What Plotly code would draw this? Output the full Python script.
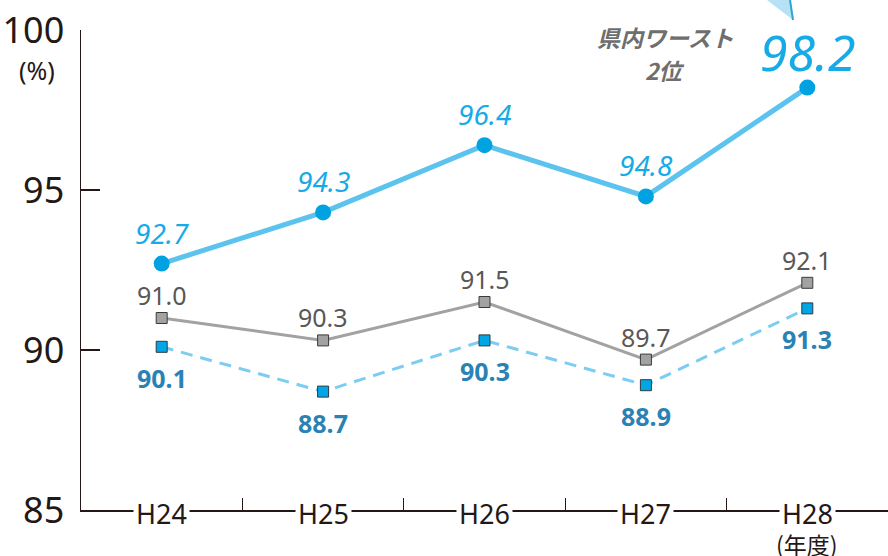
import plotly.graph_objects as go

categories = ["H24", "H25", "H26", "H27", "H28"]
pref_values = [92.7, 94.3, 96.4, 94.8, 98.2]      # blue solid line
national_values = [91.0, 90.3, 91.5, 89.7, 92.1]  # gray line
other_values = [90.1, 88.7, 90.3, 88.9, 91.3]     # dashed light blue
y_ticks = [85, 90, 95, 100]
x_unit_label = "(年度)"
y_unit_label = "(%)"
callout_lines = ["県内ワースト", "2位"]

xs = list(range(len(categories)))
NUM_FONT = "Noto Sans, Open Sans, sans-serif"
AX_FONT = "Noto Sans, Liberation Sans, sans-serif"

W, H = 888, 556
L, R, T, B = 81, 0, 30, 46
PW, PH = W - L - R, H - T - B


def px(x):
    return (x - L) / PW


def py(y):
    return (H - B - y) / PH


fig = go.Figure()

fig.add_trace(go.Scatter(
    x=xs, y=national_values, mode="lines+markers",
    line=dict(color="#a2a2a2", width=3),
    marker=dict(symbol="square", size=11, color="#a2a2a2",
                line=dict(color="#3a3a3a", width=1)),
    cliponaxis=False, hoverinfo="skip"))

fig.add_trace(go.Scatter(
    x=xs, y=other_values, mode="lines+markers",
    line=dict(color="#7ccdf1", width=3, dash="12px,8px"),
    marker=dict(symbol="square", size=11, color="#00a7e6",
                line=dict(color="#2f3a40", width=1)),
    cliponaxis=False, hoverinfo="skip"))

fig.add_trace(go.Scatter(
    x=xs, y=pref_values, mode="lines+markers",
    line=dict(color="#5cc3ef", width=5),
    marker=dict(symbol="circle", size=16, color="#00a2e2"),
    cliponaxis=False, hoverinfo="skip"))

annotations = []
for i, v in enumerate(pref_values):
    last = i == len(pref_values) - 1
    annotations.append(dict(
        x=xs[i], y=v, xref="x", yref="y", text=f"<i>{v:.1f}</i>",
        xanchor="center", yanchor="middle",
        showarrow=False, yshift=36 if last else 31,
        font=dict(family=NUM_FONT, size=50 if last else 28, color="#16abe6")))
for i, v in enumerate(national_values):
    annotations.append(dict(
        x=xs[i], y=v, xref="x", yref="y", text=f"{v:.1f}",
        xanchor="center", yanchor="middle",
        showarrow=False, yshift=23,
        font=dict(family=NUM_FONT, size=25, color="#595757")))
for i, v in enumerate(other_values):
    annotations.append(dict(
        x=xs[i], y=v, xref="x", yref="y", text=f"<b>{v:.1f}</b>",
        xanchor="center", yanchor="middle",
        showarrow=False, yshift=-31,
        font=dict(family=NUM_FONT, size=25, color="#2a82b4")))

# category labels sitting on the axis line
for i, c in enumerate(categories):
    annotations.append(dict(
        x=xs[i], y=0, xref="x", yref="paper", text=c, showarrow=False,
        xanchor="center", yanchor="middle",
        yshift=-3, bgcolor="white", borderpad=2,
        font=dict(family=AX_FONT, size=27, color="#231815")))

annotations.append(dict(
    x=xs[-1], y=py(544), xref="x", yref="paper", text=x_unit_label, showarrow=False,
    xanchor="center", yanchor="middle",
    font=dict(family="Noto Sans CJK JP", size=23, color="#231815")))
annotations.append(dict(
    x=px(37), y=py(70), xref="paper", yref="paper", text=y_unit_label, showarrow=False,
    xanchor="center", yanchor="middle",
    font=dict(family=AX_FONT, size=25, color="#231815")))
for line, cy in zip(callout_lines, [37, 70]):
    annotations.append(dict(
        x=px(665), y=py(cy), xref="paper", yref="paper",
        text=f"<b><i>{line}</i></b>", showarrow=False,
        xanchor="center", yanchor="middle",
        font=dict(family="Noto Sans CJK JP", size=23, color="#6e6e6e")))

shapes = [
    dict(type="path", xref="paper", yref="paper",
         path=f"M {px(767)},{py(0)} L {px(793)},{py(20)} L {px(790)},{py(0)} Z",
         fillcolor="#b7e2f6", line=dict(width=0)),
    dict(type="line", xref="paper", yref="paper",
         x0=px(790), y0=py(0), x1=px(793), y1=py(20),
         line=dict(color="#2fa4d3", width=2)),
]

fig.update_layout(
    width=W, height=H,
    margin=dict(l=L, r=R, t=T, b=B),
    paper_bgcolor="white", plot_bgcolor="white",
    showlegend=False,
    annotations=annotations,
    shapes=shapes,
    xaxis=dict(range=[-0.5, 4.5], showgrid=False, zeroline=False, automargin=False,
               showline=True, linecolor="#231815", linewidth=1.5,
               tickvals=[0.5, 1.5, 2.5, 3.5], ticks="inside", ticklen=12,
               tickwidth=1.2, tickcolor="#231815", showticklabels=False),
    yaxis=dict(range=[85, 100], showgrid=False, zeroline=False, automargin=False,
               showline=True, linecolor="#231815", linewidth=1.5,
               tickvals=y_ticks, ticks="inside", ticklen=19, tickwidth=1.5,
               tickcolor="#231815", ticklabelstandoff=8,
               tickfont=dict(family=AX_FONT, size=36, color="#231815")),
)

fig.write_html(
    "out.html",
    config={"displayModeBar": False, "staticPlot": True},
    post_script="document.body.style.margin='0';document.body.style.overflow='hidden';",
)
